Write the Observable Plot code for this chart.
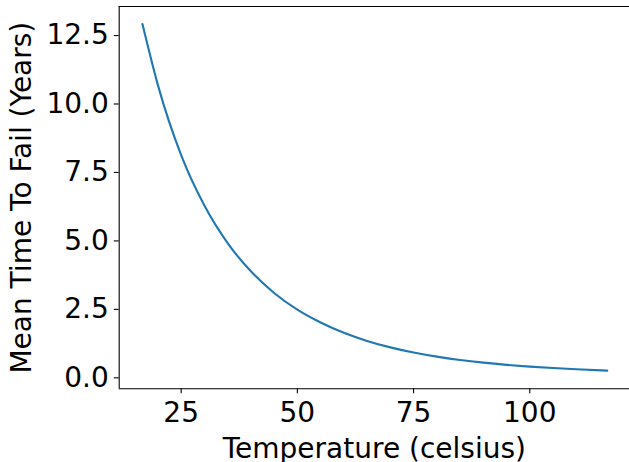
<!DOCTYPE html>
<html>
<head>
<meta charset="utf-8">
<script src="https://cdn.jsdelivr.net/npm/d3@7"></script>
<script src="https://cdn.jsdelivr.net/npm/@observablehq/plot@0.6"></script>
<style>
  html, body { margin: 0; padding: 0; background: white; }
  #chart svg { display: block; overflow: visible; }
</style>
</head>
<body>
<div id="chart"></div>
<script>
// Data
const temperature = [16.67, 20, 25, 30, 35, 40, 45, 50, 55, 60, 65, 70, 75, 80, 85, 90, 95, 100, 105, 110, 116.67];
const meanTimeToFail = [12.92, 10.69, 8.13, 6.29, 4.92, 3.89, 3.10, 2.49, 2.02, 1.645, 1.349, 1.112, 0.924, 0.774, 0.653, 0.555, 0.475, 0.41, 0.357, 0.312, 0.264];
const xTicks = [25, 50, 75, 100];
const yTicks = [0, 2.5, 5, 7.5, 10, 12.5];
const xLabel = "Temperature (celsius)";
const yLabel = "Mean Time To Fail (Years)";
const xDomain = [11.67, 121.67];
const yDomain = [-0.40, 13.56];

const data = temperature.map((t, i) => ({t, v: meanTimeToFail[i]}));
const font = "DejaVu Sans";
const fs = 28;

const chart = Plot.plot({
  width: 629,
  height: 462,
  marginLeft: 118.7,
  marginRight: 0,
  marginTop: 6,
  marginBottom: 73.7,
  style: {fontFamily: font, fontSize: fs + "px", color: "black", background: "white"},
  x: {domain: xDomain, range: [118.7, 630]},
  y: {domain: yDomain},
  marks: [
    Plot.axisX({ticks: xTicks, tickSize: 4.9, tickPadding: 8, strokeWidth: 1.1, fontSize: fs, label: null, tickFormat: d3.format("d")}),
    Plot.axisY({ticks: yTicks, tickSize: 4.9, tickPadding: 5.5, strokeWidth: 1.1, fontSize: fs, label: null, tickFormat: d3.format(".1f")}),
    Plot.line(data, {x: "t", y: "v", stroke: "#1f77b4", strokeWidth: 2.1, curve: "monotone-x"}),
    Plot.ruleX([xDomain[0]], {stroke: "black", strokeWidth: 1.1}),
    Plot.ruleY([yDomain[0], yDomain[1]], {stroke: "black", strokeWidth: 1.1}),
    Plot.text([xLabel], {frameAnchor: "bottom", textAnchor: "middle", lineAnchor: "middle", dy: 60.7, fontSize: fs, fill: "black"}),
    Plot.text([yLabel], {frameAnchor: "left", textAnchor: "middle", lineAnchor: "middle", rotate: -90, dx: -96.7, fontSize: fs, fill: "black"})
  ]
});
document.getElementById("chart").appendChild(chart);
</script>
</body>
</html>
